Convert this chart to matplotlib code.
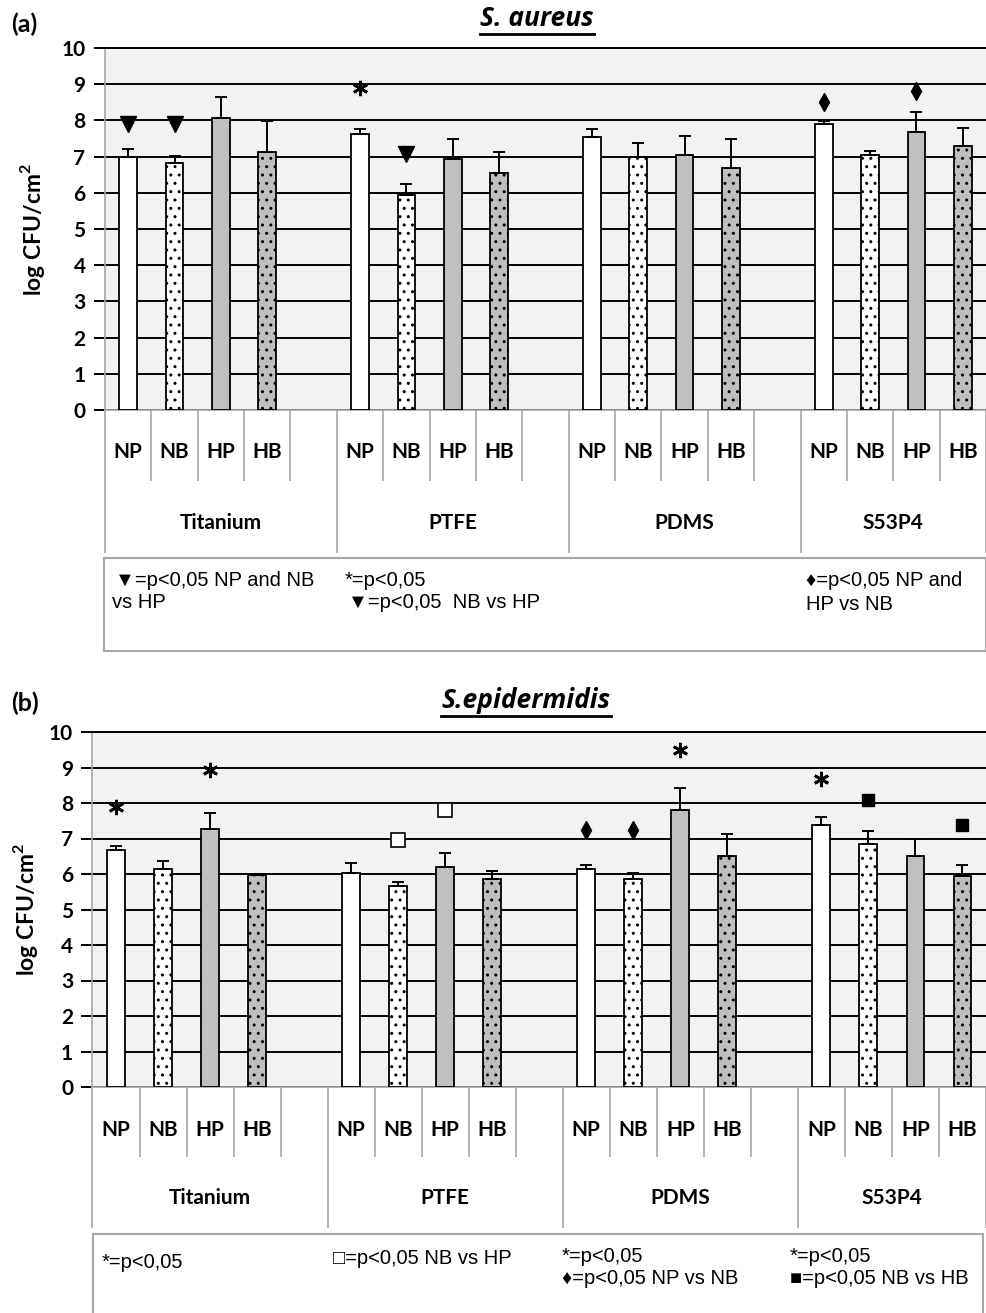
import matplotlib
matplotlib.use('Agg')
import matplotlib.pyplot as plt
from matplotlib.patches import Rectangle
from matplotlib.lines import Line2D

# ---------------- data ----------------
materials = ['Titanium', 'PTFE', 'PDMS', 'S53P4']
treatments = ['NP', 'NB', 'HP', 'HB']

# S. aureus (panel a), ordered material by material, NP NB HP HB
aureus_mean = [7.00, 6.83, 8.06, 7.14,
               7.63, 5.94, 6.93, 6.56,
               7.53, 7.00, 7.05, 6.68,
               7.89, 7.05, 7.67, 7.30]
aureus_err = [0.22, 0.20, 0.60, 0.85,
              0.13, 0.31, 0.55, 0.58,
              0.22, 0.37, 0.53, 0.80,
              0.10, 0.11, 0.55, 0.50]
aureus_marks = [('Titanium', 'NP', 'tri', 7.90), ('Titanium', 'NB', 'tri', 7.90),
                ('PTFE', 'NP', 'ast', 8.89), ('PTFE', 'NB', 'tri', 7.07),
                ('S53P4', 'NP', 'dia', 8.50), ('S53P4', 'HP', 'dia', 8.82)]

# S. epidermidis (panel b)
epi_mean = [6.69, 6.14, 7.28, 5.97,
            6.03, 5.65, 6.19, 5.86,
            6.14, 5.86, 7.81, 6.52,
            7.39, 6.85, 6.52, 5.93]
epi_err = [0.11, 0.22, 0.44, 0.04,
           0.28, 0.12, 0.40, 0.22,
           0.11, 0.17, 0.61, 0.61,
           0.22, 0.37, 0.47, 0.32]
epi_marks = [('Titanium', 'NP', 'ast', 7.90), ('Titanium', 'HP', 'ast', 8.94),
             ('PTFE', 'NB', 'osq', 6.97), ('PTFE', 'HP', 'osq', 7.79),
             ('PDMS', 'NP', 'dia', 7.23), ('PDMS', 'NB', 'dia', 7.23),
             ('PDMS', 'HP', 'ast', 9.50),
             ('S53P4', 'NP', 'ast', 8.69),
             ('S53P4', 'NB', 'fsq', 8.08), ('S53P4', 'HB', 'fsq', 7.37)]

yticks = list(range(0, 11))
ylabel = 'log CFU/cm$^{\\mathbf{2}}$'

aureus_legend = [(115, 580, '\u25BC=p<0,05 NP and NB'), (112, 603, 'vs HP'),
                 (345, 580, '*=p<0,05'), (348, 603, '\u25BC=p<0,05  NB vs HP'),
                 (806, 581, '\u2666=p<0,05 NP and'), (806, 604, 'HP vs NB')]
epi_legend = [(102, 1263, '*=p<0,05'), (333, 1258, '\u25A1=p<0,05 NB vs HP'),
              (562, 1256, '*=p<0,05'), (562, 1278, '\u2666=p<0,05 NP vs NB'),
              (790, 1256, '*=p<0,05'), (790, 1278, '\u25A0=p<0,05 NB vs HB')]

# ---------------- style ----------------
W, H = 987, 1313
MAIN_FONT = ['Lato', 'DejaVu Sans']
TITLE_FONT = ['Open Sans', 'DejaVu Sans']
NARROW_FONT = ['Liberation Sans Narrow', 'Liberation Sans', 'DejaVu Sans']
plt.rcParams['font.family'] = MAIN_FONT
plt.rcParams['hatch.linewidth'] = 1.0
plt.rcParams['mathtext.fontset'] = 'custom'
plt.rcParams['mathtext.bf'] = 'Lato:bold'
plt.rcParams['mathtext.rm'] = 'Lato:bold'

fills = ['white', 'white', '#bfbfbf', '#bfbfbf']
hatches = [None, '..', None, '..']
GRAY = '#a6a6a6'

mark_style = {
    'tri': dict(marker='v', markersize=11, color='black'),
    'ast': dict(marker=(6, 2, 0), markersize=11, color='black', markeredgewidth=2.0),
    'dia': dict(marker='d', markersize=9, color='black'),
    'osq': dict(marker='s', markersize=10, markerfacecolor='white',
                markeredgecolor='black', markeredgewidth=1.2),
    'fsq': dict(marker='s', markersize=8.5, color='black'),
}

fig = plt.figure(figsize=(W / 100, H / 100), dpi=100)


def fx(px):
    return px / W


def fy(py):
    return 1 - py / H


def slot_index(m, t):
    return materials.index(m) * 5 + treatments.index(t)


n_slots = len(materials) * 5 - 1


def draw_panel(left, right, top, bottom, lab_bottom, inner_bottom_px,
               label_row_px, mat_row_px, means, errs, marks,
               title, title_cx, title_cy, underline_y, tag, tag_y, ylab_x):
    ax = fig.add_axes([fx(left), fy(bottom), fx(right) - fx(left), fy(top) - fy(bottom)])
    ax.set_facecolor('#f2f2f2')
    ax.set_xlim(-0.5, n_slots - 0.5)
    ax.set_ylim(0, 10)
    ax.set_yticks(yticks)
    ax.set_yticklabels([str(v) for v in yticks], fontsize=15, fontweight='bold')
    ax.tick_params(axis='y', length=8, width=1.4, color='black', pad=6)
    ax.set_xticks([])
    ax.yaxis.grid(True, color='black', linewidth=1.4, zorder=1)
    ax.set_axisbelow(True)
    ax.spines['right'].set_visible(False)
    ax.spines['top'].set_color('black')
    ax.spines['top'].set_linewidth(1.4)
    ax.spines['left'].set_color(GRAY)
    ax.spines['left'].set_linewidth(1.2)
    ax.spines['bottom'].set_color(GRAY)
    ax.spines['bottom'].set_linewidth(1.2)

    xs = [mi * 5 + ti for mi in range(len(materials)) for ti in range(len(treatments))]
    for k, (x, v, e) in enumerate(zip(xs, means, errs)):
        t = k % 4
        ax.bar(x, v, width=0.38, color=fills[t], edgecolor='black',
               hatch=hatches[t], linewidth=1.3, zorder=3)
    ax.errorbar(xs, means, yerr=[[0] * len(errs), errs], fmt='none',
                ecolor='black', elinewidth=1.4, capsize=4, capthick=1.4, zorder=4)
    for m, t, kind, y in marks:
        ax.plot([slot_index(m, t)], [y], linestyle='none', zorder=5, **mark_style[kind])

    ax.set_ylabel(ylabel, fontsize=16.5, fontweight='bold')
    ax.yaxis.set_label_coords((ylab_x - left) / (right - left), 0.5)

    # category table below
    lab = fig.add_axes([fx(left), fy(lab_bottom), fx(right) - fx(left), fy(bottom) - fy(lab_bottom)])
    lab.set_xlim(-0.5, n_slots - 0.5)
    lab.set_ylim(0, 1)
    lab.axis('off')
    total = lab_bottom - bottom
    inner_frac = 1 - (inner_bottom_px - bottom) / total
    group_edges = {0, 5, 10, 15, n_slots}
    for i in range(n_slots + 1):
        ymin = 0 if i in group_edges else inner_frac
        lab.plot([i - 0.5, i - 0.5], [ymin, 1], color=GRAY, linewidth=1.2,
                 solid_capstyle='butt', clip_on=False)
    ry = 1 - (label_row_px - bottom) / total
    my = 1 - (mat_row_px - bottom) / total
    for mi, m in enumerate(materials):
        for ti, t in enumerate(treatments):
            lab.text(mi * 5 + ti, ry, t, ha='center', va='center', fontsize=15,
                     fontweight='bold')
        start = mi * 5 - 0.5
        end = min(mi * 5 + 4.5, n_slots - 0.5)
        lab.text((start + end) / 2, my, m, ha='center', va='center', fontsize=15,
                 fontweight='bold')

    # title and tag
    tt = fig.text(fx(title_cx), fy(title_cy), title, ha='center', va='center',
                  fontsize=19, fontweight='bold', fontstyle='italic', family=TITLE_FONT)
    fig.text(fx(11), fy(tag_y), tag, ha='left', va='center', fontsize=18, fontweight='bold')
    return ax, tt, underline_y


ax_a, tt_a, ul_a = draw_panel(105, 986, 48, 410, 553, 481, 452, 523,
                              aureus_mean, aureus_err, aureus_marks,
                              'S. aureus', 537, 19, 34, '(a)', 24, 47)
ax_b, tt_b, ul_b = draw_panel(92.5, 986, 732, 1087, 1228, 1157, 1130, 1198,
                              epi_mean, epi_err, epi_marks,
                              'S.epidermidis', 526, 700, 716, '(b)', 703, 40)

# legend boxes
fig.add_artist(Rectangle((fx(104), fy(651)), fx(986) - fx(104), fy(558) - fy(651),
                         transform=fig.transFigure, facecolor='white',
                         edgecolor=GRAY, linewidth=1.5))
fig.add_artist(Rectangle((fx(93), fy(1330)), fx(983) - fx(93), fy(1234) - fy(1330),
                         transform=fig.transFigure, facecolor='white',
                         edgecolor=GRAY, linewidth=1.5))
for x, y, s in aureus_legend + epi_legend:
    fig.text(fx(x), fy(y), s, ha='left', va='center', fontsize=14.5, family=NARROW_FONT)

# underline titles
fig.canvas.draw()
r = fig.canvas.get_renderer()
for tt, uy in [(tt_a, ul_a), (tt_b, ul_b)]:
    bb = tt.get_window_extent(r)
    fig.add_artist(Line2D([bb.x0 / W, bb.x1 / W], [fy(uy), fy(uy)],
                          transform=fig.transFigure, color='black', linewidth=2))

fig.savefig('out.png', dpi=100)
